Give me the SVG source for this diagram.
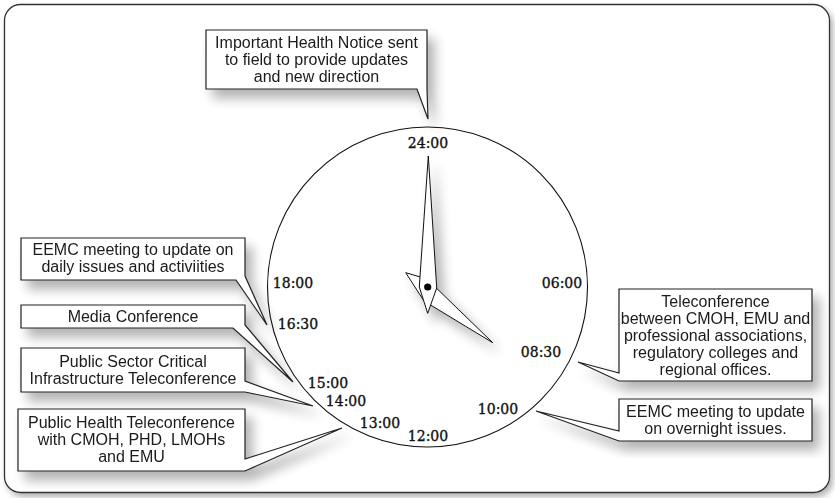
<svg xmlns="http://www.w3.org/2000/svg" width="835" height="498" viewBox="0 0 835 498">
<defs>
<filter id="sh" x="-20%" y="-20%" width="150%" height="160%">
<feGaussianBlur in="SourceAlpha" stdDeviation="6"/>
<feOffset dx="7" dy="9" result="b"/>
<feComponentTransfer><feFuncA type="linear" slope="0.3"/></feComponentTransfer>
<feMerge><feMergeNode/><feMergeNode in="SourceGraphic"/></feMerge>
</filter>
<filter id="shs" x="-20%" y="-20%" width="150%" height="150%">
<feGaussianBlur in="SourceAlpha" stdDeviation="3"/>
<feOffset dx="3" dy="4" result="b"/>
<feComponentTransfer><feFuncA type="linear" slope="0.3"/></feComponentTransfer>
<feMerge><feMergeNode/><feMergeNode in="SourceGraphic"/></feMerge>
</filter>
</defs>
<style>
.callout{fill:#fff;stroke:#222;stroke-width:1.2;stroke-linejoin:miter}
.ct{font-family:"Liberation Sans",Arial,sans-serif;font-size:16px;fill:#1a1a1a;text-anchor:middle}
.tl{font-family:"DejaVu Serif",serif;font-size:14px;fill:#111;stroke:#111;stroke-width:0.35;text-anchor:middle}
.hand{fill:#fff;stroke:#111;stroke-width:1;stroke-linejoin:miter}
</style>
<rect x="4.5" y="4.5" width="825" height="488" rx="16" fill="#fff" stroke="#333" stroke-width="1.3" filter="url(#shs)"/>

<g id="clock">
<circle cx="427.5" cy="287" r="160" fill="none" stroke="#111" stroke-width="1.1"/>
<text class="tl" x="428" y="148">24:00</text>
<text class="tl" x="293" y="288">18:00</text>
<text class="tl" x="562" y="288">06:00</text>
<text class="tl" x="298" y="329">16:30</text>
<text class="tl" x="541" y="357">08:30</text>
<text class="tl" x="328" y="388">15:00</text>
<text class="tl" x="346" y="406">14:00</text>
<text class="tl" x="498" y="414">10:00</text>
<text class="tl" x="380" y="428">13:00</text>
<text class="tl" x="428" y="441">12:00</text>
</g>

<g id="hands" filter="url(#sh)">
<polygon class="hand" points="405.7,272.7 427,279 492.7,342.7 424,301"/>
<polygon class="hand" points="428.3,156 436.7,288 427.7,313.3 419.3,287"/>
<circle cx="427.7" cy="287" r="3.6" fill="#000"/>
</g>

<g id="n-notice" filter="url(#sh)">
<path class="callout" d="M206,30 H427 V89 L428,119 L417,89 H206 Z"/>
<text class="ct" x="316.5" y="48">Important Health Notice sent</text>
<text class="ct" x="316.5" y="65">to field to provide updates</text>
<text class="ct" x="316.5" y="82">and new direction</text>
</g>

<g id="n-eemc-daily" filter="url(#sh)">
<path class="callout" d="M21,238 H245 V276 L267,325 L236,280 H21 Z"/>
<text class="ct" x="133" y="255">EEMC meeting to update on</text>
<text class="ct" x="133" y="272">daily issues and activiities</text>
</g>

<g id="n-media" filter="url(#sh)">
<path class="callout" d="M21,305 H245 V325 L293,382 L233,328 H21 Z"/>
<text class="ct" x="133" y="322">Media Conference</text>
</g>

<g id="n-psci" filter="url(#sh)">
<path class="callout" d="M21,348 H245 V381 L313,406 L245,392 H21 Z"/>
<text class="ct" x="133" y="367">Public Sector Critical</text>
<text class="ct" x="133" y="384">Infrastructure Teleconference</text>
</g>

<g id="n-ph" filter="url(#sh)">
<path class="callout" d="M18,409 H245 V459 L342,428 L245,471 H18 Z"/>
<text class="ct" x="131.5" y="428">Public Health Teleconference</text>
<text class="ct" x="131.5" y="445">with CMOH, PHD, LMOHs</text>
<text class="ct" x="131.5" y="462">and EMU</text>
</g>

<g id="n-tele" filter="url(#sh)">
<path class="callout" d="M619,289 H812 V381 H619 L578,362 L619,373 Z"/>
<text class="ct" x="715.5" y="307">Teleconference</text>
<text class="ct" x="715.5" y="324">between CMOH, EMU and</text>
<text class="ct" x="715.5" y="341">professional associations,</text>
<text class="ct" x="715.5" y="358">regulatory colleges and</text>
<text class="ct" x="715.5" y="375">regional offices.</text>
</g>

<g id="n-eemc-overnight" filter="url(#sh)">
<path class="callout" d="M619,399 H812 V441 H619 L536,411 L619,431 Z"/>
<text class="ct" x="715.5" y="417">EEMC meeting to update</text>
<text class="ct" x="715.5" y="434">on overnight issues.</text>
</g>

<g id="connectors"/>
</svg>
